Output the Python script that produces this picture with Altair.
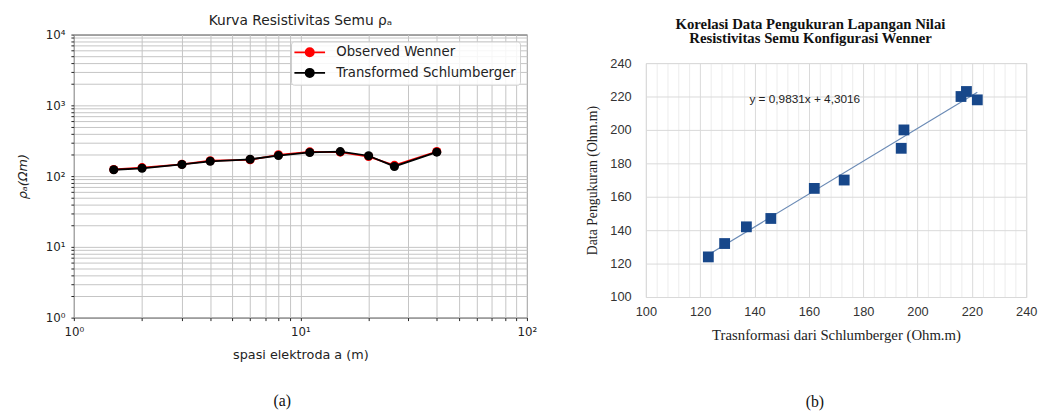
import altair as alt
import pandas as pd

# ---------------- data ----------------
spacing_m = [1.5, 2, 3, 4, 6, 8, 11, 15, 20, 26, 40]
observed_wenner = [124, 132, 147, 165, 170, 200, 220, 218, 189, 142, 223]
transformed_schlumberger = [123, 129, 146, 162, 173, 195, 216, 222, 194, 137, 218]
series_names = ["Observed Wenner", "Transformed Schlumberger"]
series_colors = ["#ff0000", "#000000"]

x_log_ticks = [1, 2, 3, 4, 5, 6, 7, 8, 9, 10, 20, 30, 40, 50, 60, 70, 80, 90, 100]
y_log_ticks = [1, 2, 3, 4, 5, 6, 7, 8, 9, 10, 20, 30, 40, 50, 60, 70, 80, 90,
               100, 200, 300, 400, 500, 600, 700, 800, 900,
               1000, 2000, 3000, 4000, 5000, 6000, 7000, 8000, 9000, 10000]
decade_labels = {1: "10⁰", 10: "10¹", 100: "10²", 1000: "10³", 10000: "10⁴"}

right_x_ticks = list(range(100, 241, 4))
right_y_ticks = [100, 120, 140, 160, 180, 200, 220, 240]
equation_text = "y = 0,9831x + 4,3016"
equation_at = (158.5, 218.5)

# ---------------- tables ----------------
df_left = pd.DataFrame({
    "spacing": spacing_m * 2,
    "rho": observed_wenner + transformed_schlumberger,
    "series": [series_names[0]] * len(spacing_m) + [series_names[1]] * len(spacing_m),
})
df_right = pd.DataFrame({
    "transformed": transformed_schlumberger,
    "observed": observed_wenner,
})

label_expr = " : ".join(
    f"datum.value == {k} ? '{v}'" for k, v in decade_labels.items()
) + " : ''"

LEFT_W, LEFT_H = 461, 288
RIGHT_W, RIGHT_H = 387, 238

# ---------------- left chart ----------------
dark = "#222222"
x_left = alt.X(
    "spacing:Q",
    scale=alt.Scale(type="log", domain=[1, 100], nice=False),
    axis=alt.Axis(
        values=x_log_ticks, labelExpr=label_expr, grid=True, gridColor="#c4c4c4",
        gridWidth=1, domain=False, ticks=True, tickColor=dark, tickSize=3,
        labelFont="DejaVu Sans", labelFontSize=12, labelColor=dark, labelPadding=6,
        labelFlush=False, labelOverlap=False,
        title="spasi elektroda a (m)", titleFont="DejaVu Sans", titleFontSize=13,
        titleFontWeight="normal", titleColor=dark, titlePadding=12,
    ),
)
y_left = alt.Y(
    "rho:Q",
    scale=alt.Scale(type="log", domain=[1, 10000], nice=False),
    axis=alt.Axis(
        values=y_log_ticks, labelExpr=label_expr, grid=True, gridColor="#c4c4c4",
        gridWidth=1, domain=False, ticks=True, tickColor=dark, tickSize=3,
        labelFont="DejaVu Sans", labelFontSize=12, labelColor=dark, labelPadding=6,
        labelFlush=False, labelOverlap=False,
        title="ρₐ(Ωm)", titleFont="DejaVu Sans", titleFontSize=13,
        titleFontWeight="normal", titleFontStyle="italic", titleColor=dark, titlePadding=16,
    ),
)

color_scale = alt.Scale(domain=series_names, range=series_colors)
# line with a dot in the middle, in units of sqrt(symbolSize)/2 = 6px
legend_symbol = "M-2.6,0H2.6M0.7,0A0.7,0.7,0,1,1,-0.7,0A0.7,0.7,0,1,1,0.7,0Z"
leg = alt.Legend(
    title=None, orient="top-right", offset=7, symbolType=legend_symbol,
    symbolSize=144, symbolStrokeWidth=1.8, symbolOffset=8,
    labelFont="DejaVu Sans", labelFontSize=13.5, labelColor=dark, labelOffset=20,
    labelLimit=400, rowPadding=5, padding=4,
    strokeColor="#cccccc", fillColor="rgba(255,255,255,0.85)", cornerRadius=3,
)

base_left = alt.Chart(df_left).encode(x=x_left, y=y_left)
left_layers = []
for name in series_names:
    sub = base_left.transform_filter(alt.datum.series == name)
    left_layers.append(
        sub.mark_line(strokeWidth=1.8).encode(
            stroke=alt.Stroke("series:N", scale=color_scale, legend=leg)
        )
    )
    left_layers.append(
        sub.mark_circle(size=85, opacity=1).encode(
            fill=alt.Fill("series:N", scale=color_scale, legend=leg)
        )
    )

caption_a = alt.Chart(pd.DataFrame({"c": ["(a)"]})).mark_text(
    font="Liberation Serif", fontSize=16, color="#111111", baseline="middle"
).encode(text="c:N", x=alt.value(212), y=alt.value(373))

# invisible spacer below panel (a): it sets how far the vertically centred
# panel (b) sits below panel (a), as in the reference figure
spacer = alt.Chart(pd.DataFrame({"c": [0]})).mark_rule(strokeOpacity=0, strokeWidth=1).encode(
    x=alt.value(0), x2=alt.value(1), y=alt.value(411)
)

left = alt.layer(*left_layers, caption_a, spacer).properties(
    width=LEFT_W, height=LEFT_H,
    title=alt.TitleParams(
        "Kurva Resistivitas Semu ρₐ", font="DejaVu Sans", fontSize=14,
        fontWeight="normal", color=dark, offset=1, anchor="middle",
    ),
    view=alt.ViewBackground(stroke="#000000", strokeWidth=1),
)

# ---------------- right chart ----------------
grid_major = "#d9d9d9"
x_right_scale = alt.Scale(domain=[100, 240], nice=False, zero=False)
y_right_scale = alt.Scale(domain=[100, 240], nice=False, zero=False)
x_right_axis = alt.Axis(
    values=right_x_ticks, labelExpr="datum.value % 20 == 0 ? datum.label : ''",
    grid=True, gridColor={"condition": {"test": "datum.value % 20 == 0", "value": grid_major}, "value": "#ececec"},
    domain=False, ticks=False, labelFont="Liberation Sans", labelFontSize=13,
    labelColor="#333333", labelPadding=9, labelFlush=False, labelOverlap=False,
    title="Trasnformasi dari Schlumberger (Ohm.m)", titleFont="Liberation Serif",
    titleFontSize=15, titleFontWeight="normal", titleColor=dark, titlePadding=9,
)
y_right_axis = alt.Axis(
    values=right_y_ticks, grid=True, gridColor=grid_major, domain=False, ticks=False,
    labelFont="Liberation Sans", labelFontSize=13, labelColor="#333333",
    labelPadding=15, labelFlush=False, labelOverlap=False,
    title="Data Pengukuran (Ohm.m)", titleFont="Liberation Serif", titleFontSize=14,
    titleFontWeight="normal", titleColor=dark, titlePadding=11,
)
x_right = alt.X("transformed:Q", scale=x_right_scale, axis=x_right_axis)
y_right = alt.Y("observed:Q", scale=y_right_scale, axis=y_right_axis)

base_right = alt.Chart(df_right).encode(x=x_right, y=y_right)
trend = base_right.transform_regression("transformed", "observed").mark_line(
    color="#6a8ab5", strokeWidth=1.2
)
squares = base_right.mark_square(size=121, color="#17478a", opacity=1)
eq = alt.Chart(pd.DataFrame({"t": [equation_text]})).mark_text(
    font="Liberation Sans", fontSize=12, color="#222222", align="center", baseline="middle"
).encode(
    text="t:N",
    x=alt.X(datum=equation_at[0], scale=x_right_scale, axis=x_right_axis),
    y=alt.Y(datum=equation_at[1], scale=y_right_scale, axis=y_right_axis),
)

caption_b = alt.Chart(pd.DataFrame({"c": ["(b)"]})).mark_text(
    font="Liberation Serif", fontSize=16, color="#111111", baseline="middle"
).encode(text="c:N", x=alt.value(172), y=alt.value(345))

right = alt.layer(trend, squares, eq, caption_b).properties(
    width=RIGHT_W, height=RIGHT_H,
    title=alt.TitleParams(
        ["Korelasi Data Pengukuran Lapangan Nilai", "Resistivitas Semu Konfigurasi Wenner"],
        font="Liberation Serif", fontSize=15, fontWeight="bold", color="#111111",
        lineHeight=15, offset=11, anchor="middle", dx=-26,
    ),
    view=alt.ViewBackground(stroke=grid_major, strokeWidth=1),
)

chart = alt.hconcat(left, right, spacing=47, center=True).resolve_scale(
    stroke="independent", fill="independent"
).resolve_legend(
    stroke="independent", fill="independent"
).properties(
    padding={"left": 8, "top": 1, "right": 0, "bottom": 0}
).configure(background="white")

chart.save("out.html", embed_options={"renderer": "svg", "actions": False})
